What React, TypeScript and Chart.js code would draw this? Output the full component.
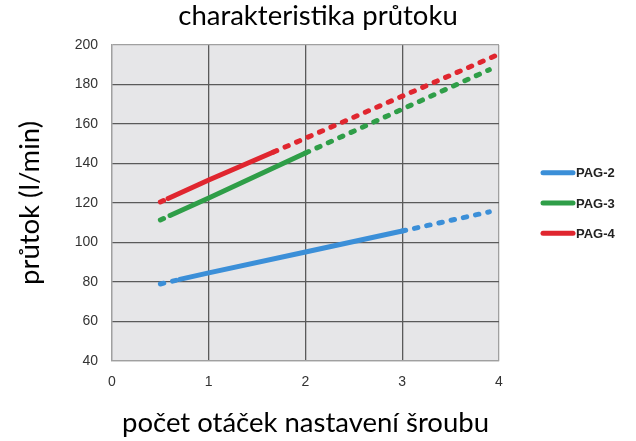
import React, { useEffect, useRef } from 'react';
import { Chart, registerables } from 'chart.js';
Chart.register(...registerables);

const chartTitle = 'charakteristika průtoku';
const xTitle = 'počet otáček nastavení šroubu';
const yTitle = 'průtok (l/min)';
const seriesLabels = ['PAG-2', 'PAG-3', 'PAG-4'];
const seriesColors = ['#3b8fd8', '#2f9e48', '#e0262f'];

const pag2X = [0.5, 0.7, 1, 2, 3, 3.9];
const pag2Y = [79, 81.3, 84.6, 95.2, 105.8, 115.5];
const pag2Dashed = [true, false, false, false, true];

const pag3X = [0.5, 0.6, 1, 2, 3.9];
const pag3Y = [111.4, 113.7, 122.5, 145.3, 187.5];
const pag3Dashed = [true, false, false, true];

const pag4X = [0.5, 0.58, 1, 1.67, 3.96];
const pag4Y = [120.5, 122.3, 131.6, 145.8, 194.5];
const pag4Dashed = [true, false, false, true];

const xMin = 0, xMax = 4, xStep = 1;
const yMin = 40, yMax = 200, yStep = 20;

const toPoints = (xs: number[], ys: number[]) => xs.map((x, i) => ({ x, y: ys[i] }));

const bgPlugin = {
  id: 'plotBg',
  beforeDraw(chart: any) {
    const { ctx, chartArea } = chart;
    if (!chartArea) return;
    ctx.save();
    ctx.fillStyle = '#e6e6e8';
    ctx.fillRect(chartArea.left, chartArea.top, chartArea.right - chartArea.left, chartArea.bottom - chartArea.top);
    ctx.restore();
  },
};

const legendPlugin = {
  id: 'sideLegend',
  afterDraw(chart: any) {
    const { ctx, chartArea } = chart;
    const cy = (chartArea.top + chartArea.bottom) / 2;
    const x0 = chartArea.right + 44;
    ctx.save();
    chart.data.datasets.forEach((ds: any, i: number) => {
      const y = cy + (i - 1) * 30.3;
      ctx.strokeStyle = ds.borderColor;
      ctx.lineWidth = 5;
      ctx.lineCap = 'round';
      ctx.setLineDash([]);
      ctx.beginPath();
      ctx.moveTo(x0, y);
      ctx.lineTo(x0 + 30, y);
      ctx.stroke();
      ctx.fillStyle = '#222';
      ctx.font = 'bold 13px "Liberation Sans", Arial, sans-serif';
      ctx.textBaseline = 'middle';
      ctx.textAlign = 'left';
      ctx.fillText(ds.label, x0 + 33, y + 1);
    });
    ctx.restore();
  },
};

export default function App() {
  const ref = useRef<HTMLCanvasElement | null>(null);
  useEffect(() => {
    if (!ref.current) return;
    const mk = (label: string, color: string, xs: number[], ys: number[], dashed: boolean[]) => ({
      label,
      data: toPoints(xs, ys),
      borderColor: color,
      backgroundColor: color,
      borderWidth: 5,
      borderCapStyle: 'round' as const,
      pointRadius: 0,
      tension: 0,
      segment: {
        borderDash: (c: any) => (dashed[c.p0DataIndex] ? [3.5, 9] : undefined),
      },
    });
    const edgeColor = (c: any, min: number, max: number) =>
      c.tick && (c.tick.value === min || c.tick.value === max) ? '#a0a0a0' : '#5a5a5a';
    const titleFont = { family: 'Lato, "Open Sans", sans-serif', size: 27.5, weight: 'normal' as const };
    const tickFont = { family: '"Liberation Sans", Arial, sans-serif', size: 14 };
    const chart = new Chart(ref.current, {
      type: 'line',
      data: {
        datasets: [
          mk(seriesLabels[0], seriesColors[0], pag2X, pag2Y, pag2Dashed),
          mk(seriesLabels[1], seriesColors[1], pag3X, pag3Y, pag3Dashed),
          mk(seriesLabels[2], seriesColors[2], pag4X, pag4Y, pag4Dashed),
        ],
      },
      options: {
        animation: false,
        responsive: true,
        maintainAspectRatio: false,
        layout: { padding: 0 },
        plugins: {
          legend: { display: false },
          tooltip: { enabled: false },
          title: {
            display: true,
            text: chartTitle,
            color: '#000',
            font: titleFont,
            padding: { top: 0, bottom: 12 },
          },
        },
        scales: {
          x: {
            type: 'linear',
            min: xMin,
            max: xMax,
            ticks: { stepSize: xStep, color: '#333', padding: 13, font: tickFont },
            grid: { drawTicks: false, lineWidth: 1.3, color: (c: any) => edgeColor(c, xMin, xMax) },
            border: { display: true, color: '#a0a0a0', width: 1.3 },
            title: {
              display: true,
              text: xTitle,
              color: '#000',
              font: titleFont,
              padding: { top: 0, bottom: 1 },
            },
            afterFit: (s: any) => { s.height = 80; },
          },
          y: {
            type: 'linear',
            min: yMin,
            max: yMax,
            ticks: { stepSize: yStep, color: '#333', padding: 14, font: tickFont },
            grid: { drawTicks: false, lineWidth: 1.3, color: (c: any) => edgeColor(c, yMin, yMax) },
            border: { display: true, color: '#a0a0a0', width: 1.3 },
            title: {
              display: true,
              text: yTitle,
              color: '#000',
              font: titleFont,
              padding: { top: 14, bottom: 0 },
            },
            afterFit: (s: any) => { s.width = 112; },
          },
          legendSpace: {
            type: 'linear',
            position: 'right',
            display: true,
            min: 0,
            max: 1,
            ticks: { display: false },
            grid: { display: false, drawTicks: false },
            border: { display: false },
            afterFit: (s: any) => { s.width = 137; },
          },
        },
      },
      plugins: [bgPlugin, legendPlugin],
    });
    return () => chart.destroy();
  }, []);
  return (
    <div style={{ position: 'fixed', left: 0, top: 0, width: 636, height: 441 }}>
      <canvas ref={ref} />
    </div>
  );
}
